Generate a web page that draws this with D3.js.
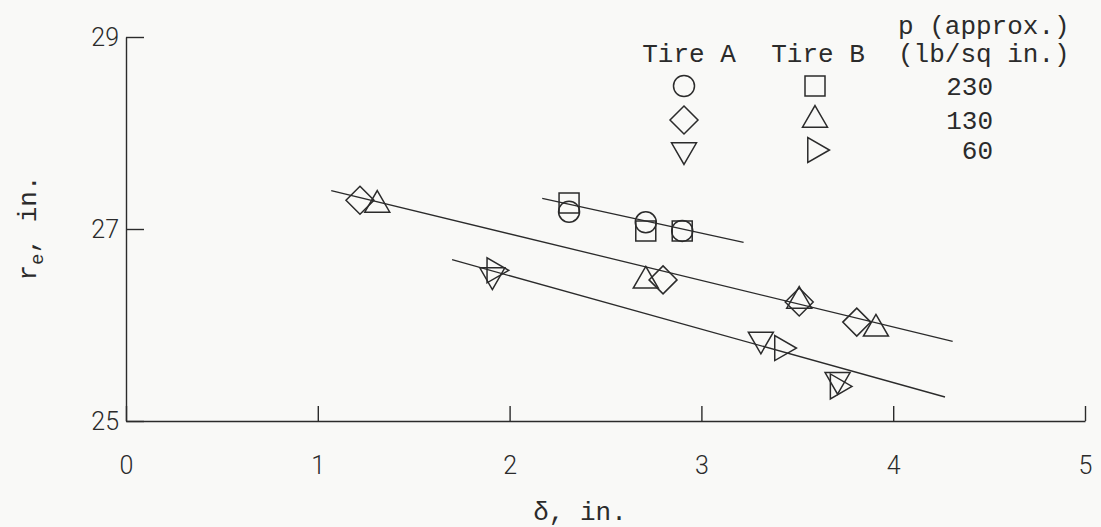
<!DOCTYPE html>
<html>
<head>
<meta charset="utf-8">
<script src="https://cdn.jsdelivr.net/npm/d3@7"></script>
<style>
  html, body { margin: 0; padding: 0; background: #f9f9f7; }
  svg { display: block; }
  .mono { font-family: "Liberation Mono", "DejaVu Sans Mono", monospace; fill: #2b2b2b; }
  .tick text { font-family: Roboto, "Liberation Sans", sans-serif; font-weight: 300; font-size: 25px; fill: #2b2b2b; }
  .tick line, .domain { stroke: #2b2b2b; stroke-width: 1.4; }
</style>
</head>
<body>
<div id="chart"></div>
<script>
// --- Data (deflection δ in inches, rolling radius r_e in inches)
const xTicks = [0, 1, 2, 3, 4, 5];
const yTicks = [25, 27, 29];

// Tire A
const tireA230 = [[2.31, 27.18], [2.71, 27.07], [2.90, 26.98]];
const tireA130 = [[1.22, 27.30], [2.80, 26.47], [3.51, 26.24], [3.81, 26.03]];
const tireA60 = [[1.91, 26.52], [3.31, 25.85], [3.71, 25.43]];
// Tire B
const tireB230 = [[2.31, 27.27], [2.71, 26.98], [2.90, 26.98]];
const tireB130 = [[1.31, 27.25], [2.71, 26.46], [3.51, 26.25], [3.91, 25.96]];
const tireB60 = [[1.92, 26.57], [3.42, 25.76], [3.71, 25.36]];

// faired lines through each pressure group
const fair230 = [[2.17, 27.32], [3.22, 26.86]];
const fair130 = [[1.07, 27.40], [4.31, 25.83]];
const fair60 = [[1.70, 26.68], [4.27, 25.25]];

const pressures = ["230", "130", "60"];

const series = [
  { pts: tireA230, shape: "circle" },
  { pts: tireB230, shape: "square" },
  { pts: tireA130, shape: "diamond" },
  { pts: tireB130, shape: "triUp" },
  { pts: tireA60, shape: "triDown" },
  { pts: tireB60, shape: "triRight" }
];

// --- Symbol outlines, centred on (0,0)
function shapePath(shape) {
  const p = d3.path();
  if (shape === "circle") {
    p.arc(0, 0, 10.5, 0, 2 * Math.PI);
  } else if (shape === "square") {
    p.rect(-10, -10, 20, 20);
  } else if (shape === "diamond") {
    p.moveTo(0, -14); p.lineTo(14, 0); p.lineTo(0, 14); p.lineTo(-14, 0); p.closePath();
  } else {
    const s = 25, h = s * Math.sqrt(3) / 2;
    // apex up, centroid at origin
    let v = [[0, -2 * h / 3], [s / 2, h / 3], [-s / 2, h / 3]];
    if (shape === "triDown") v = v.map(([a, b]) => [a, -b]);
    if (shape === "triRight") v = v.map(([a, b]) => [-b, a]);
    p.moveTo(v[0][0], v[0][1]); p.lineTo(v[1][0], v[1][1]); p.lineTo(v[2][0], v[2][1]); p.closePath();
  }
  return p.toString();
}

const width = 1101, height = 527;
const svg = d3.select("#chart").append("svg")
  .attr("width", width)
  .attr("height", height)
  .attr("viewBox", [0, 0, width, height]);

const x = d3.scaleLinear().domain([0, 5]).range([126, 1085]);
const y = d3.scaleLinear().domain([25, 29]).range([421, 37]);

// axes, ticks pointing inward
svg.append("g")
  .attr("transform", `translate(0, ${y(25)})`)
  .call(d3.axisBottom(x).tickValues(xTicks).tickSize(-15).tickSizeOuter(0).tickPadding(35).tickFormat(d3.format("d")));

svg.append("g")
  .attr("transform", `translate(${x(0)}, 0)`)
  .call(d3.axisLeft(y).tickValues(yTicks).tickSize(-18).tickSizeOuter(0).tickPadding(7).tickFormat(d3.format("d")));

svg.selectAll(".tick text").attr("fill", "#2b2b2b");

// axis titles
svg.append("text")
  .attr("class", "mono")
  .attr("x", 580).attr("y", 520)
  .attr("text-anchor", "middle")
  .style("font-size", "26px")
  .text("δ, in.");

const yt = svg.append("text")
  .attr("class", "mono")
  .attr("transform", "translate(36, 228) rotate(-90)")
  .attr("text-anchor", "middle")
  .style("font-size", "26px");
yt.append("tspan").text("r");
yt.append("tspan").attr("dy", 7).style("font-size", "19px").text("e");
yt.append("tspan").attr("dy", -7).text(", in.");

// faired lines
const line = d3.line().x(d => x(d[0])).y(d => y(d[1]));
svg.append("g")
  .selectAll("path")
  .data([fair230, fair130, fair60])
  .join("path")
  .attr("d", line)
  .attr("fill", "none")
  .attr("stroke", "#2b2b2b")
  .attr("stroke-width", 1.3);

// data symbols
series.forEach(s => {
  svg.append("g")
    .selectAll("path")
    .data(s.pts)
    .join("path")
    .attr("transform", d => `translate(${x(d[0])}, ${y(d[1])})`)
    .attr("d", shapePath(s.shape))
    .attr("fill", "none")
    .attr("stroke", "#2b2b2b")
    .attr("stroke-width", 1.5);
});

// legend
const lg = svg.append("g").attr("class", "mono").style("font-size", "26px");
lg.append("text").attr("x", 898).attr("y", 34).text("p (approx.)");
lg.append("text").attr("x", 898).attr("y", 62).text("(lb/sq in.)");
lg.append("text").attr("x", 689).attr("y", 62).attr("text-anchor", "middle").text("Tire A");
lg.append("text").attr("x", 818).attr("y", 62).attr("text-anchor", "middle").text("Tire B");

const rowY = [86, 120, 150];
const legendShapes = [["circle", "square"], ["diamond", "triUp"], ["triDown", "triRight"]];
legendShapes.forEach((pair, i) => {
  lg.append("path")
    .attr("transform", `translate(684, ${rowY[i]})`)
    .attr("d", shapePath(pair[0]))
    .attr("fill", "none").attr("stroke", "#2b2b2b").attr("stroke-width", 1.5);
  lg.append("path")
    .attr("transform", `translate(815, ${rowY[i]})`)
    .attr("d", shapePath(pair[1]))
    .attr("fill", "none").attr("stroke", "#2b2b2b").attr("stroke-width", 1.5);
  lg.append("text")
    .attr("x", 993).attr("y", rowY[i]).attr("dy", "0.36em")
    .attr("text-anchor", "end")
    .text(pressures[i]);
});
</script>
</body>
</html>
